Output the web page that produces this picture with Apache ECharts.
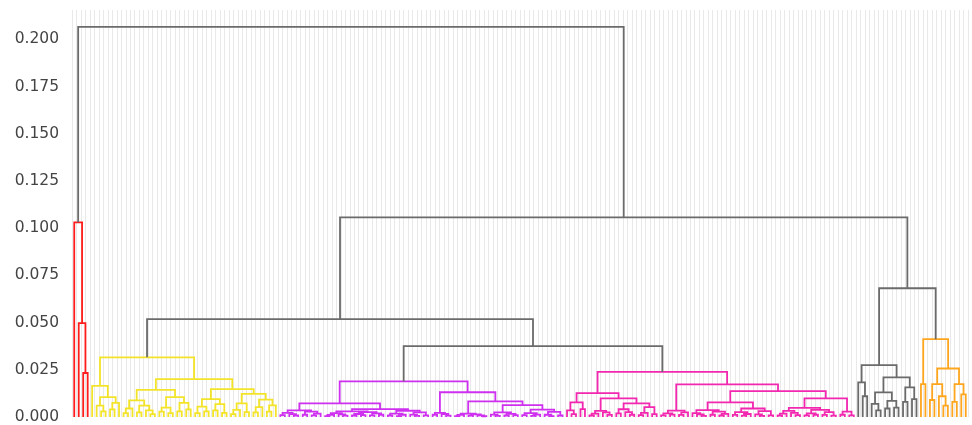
<!DOCTYPE html>
<html lang="en" style="height: 100%">

<head>
    <meta charset="UTF-8">
    <title>Dendrogram</title>
    <script src="https://cdn.jsdelivr.net/npm/echarts@6/dist/echarts.min.js"></script>
</head>

<body style="height: 100%; margin: 0; background: #fff">
    <div id="main" style="width: 972px; height: 425px"></div>
    <script>
        // merge trees: [height, left, right], a leaf is 0
        var redTree = [0.1031, 0, [0.0497, 0, [0.0233, 0, 0]]];

        var yellowTree = [0.0316,
            [0.0165, 0, [0.0105, [0.006, 0, [0.003, 0, 0]], [0.0075, [0.004, 0, 0], 0]]],
            [0.0201,
                [0.0144,
                    [0.0088, [0.0045, [0.002, 0, 0], 0], [0.006, [0.0025, 0, 0], [0.0035, 0, [0.0015, 0, 0]]]],
                    [0.0105, [0.005, [0.0028, 0, 0], [0.002, 0, 0]], [0.0075, [0.003, 0, 0], [0.004, 0, 0]]]],
                [0.0148,
                    [0.0095, [0.0055, [0.002, 0, 0], [0.003, 0, 0]], [0.0068, [0.0035, 0, 0], [0.0022, 0, 0]]],
                    [0.0122, [0.0072, [0.0038, [0.0015, 0, 0], 0], [0.0026, 0, 0]],
                        [0.0092, [0.0052, [0.0024, 0, 0], 0], [0.0062, [0.0028, 0, 0], 0]]]]]];

        var purpleTree = [0.0189,
            [0.0072,
                [0.0035, [0.0022, [0.001, 0, 0], [0.0015, 0, [0.0008, 0, 0]]],
                    [0.0028, [0.0012, 0, 0], [0.0018, [0.0009, 0, 0], 0]]],
                [0.0042,
                    [0.003, [0.0021, [0.0011, [0.0005, 0, 0], 0], [0.0014, 0, [0.0007, 0, 0]]],
                        [0.0026, [0.0016, [0.0008, 0, 0], [0.001, 0, 0]], [0.0019, [0.0009, 0, 0], [0.0012, 0, 0]]]],
                    [0.0033, [0.0018, [0.0008, 0, 0], [0.0012, [0.0005, 0, 0], 0]],
                        [0.0024, [0.0013, 0, [0.0006, 0, 0]], [0.0009, 0, 0]]]]],
            [0.0131,
                [0.0022, [0.0012, 0, 0], [0.0016, 0, [0.0007, 0, 0]]],
                [0.0083,
                    [0.0018, [0.0011, [0.0005, 0, 0], 0], [0.0014, [0.0007, 0, 0], [0.0009, 0, [0.0004, 0, 0]]]],
                    [0.0063,
                        [0.0024, [0.0013, 0, [0.0006, 0, 0]], [0.0017, [0.0008, 0, 0], [0.001, 0, 0]]],
                        [0.0039, [0.0021, [0.001, 0, 0], [0.0013, [0.0006, 0, 0], 0]],
                            [0.0027, [0.0012, 0, [0.0005, 0, 0]], [0.0008, 0, 0]]]]]]];

        var pinkTree = [0.0239,
            [0.0127,
                [0.0078, [0.0035, 0, [0.0015, 0, 0]], [0.0042, 0, 0]],
                [0.0099,
                    [0.0032, [0.0018, [0.0008, 0, 0], 0], [0.0024, 0, [0.0011, 0, 0]]],
                    [0.0072, [0.0041, [0.0019, 0, 0], [0.0026, 0, [0.0012, 0, 0]]],
                        [0.0052, [0.0022, [0.001, 0, 0], 0], [0.0015, 0, 0]]]]],
            [0.0173,
                [0.0034, [0.0019, [0.0009, 0, 0], [0.0013, 0, 0]], [0.0025, [0.0011, 0, 0], 0]],
                [0.0137,
                    [0.0078,
                        [0.0036, [0.0021, 0, [0.0014, 0, [0.0006, 0, 0]]], [0.0028, [0.0012, 0, 0], [0.0017, [0.0008, 0, 0], 0]]],
                        [0.0045, [0.0026, [0.0011, 0, 0], [0.0016, [0.0007, 0, 0], 0]],
                            [0.0031, [0.0014, 0, [0.0006, 0, 0]], [0.0009, 0, 0]]]],
                    [0.0099,
                        [0.0048, [0.0032, [0.0018, [0.0008, 0, 0], 0], [0.0022, 0, [0.001, 0, 0]]],
                            [0.0038, [0.0019, [0.0009, 0, 0], [0.0012, 0, 0]], [0.0026, [0.0011, 0, 0], [0.0007, 0, 0]]]],
                        [0.0028, [0.0012, 0, 0], [0.0009, 0, 0]]]]]];

        var grayTree = [0.0275,
            [0.0183, 0, [0.011, 0, 0]],
            [0.021,
                [0.013, [0.007, 0, [0.0035, 0, 0]], [0.0085, [0.0045, 0, 0], [0.005, 0, 0]]],
                [0.0157, [0.008, 0, 0], [0.0095, 0, 0]]]];

        var orangeTree = [0.0412,
            [0.0174, 0, 0],
            [0.0257,
                [0.0174, [0.009, 0, 0], [0.011, 0, [0.006, 0, 0]]],
                [0.0174, [0.008, 0, 0], [0.012, 0, 0]]]];

        var clusters = [redTree, yellowTree, purpleTree, pinkTree, grayTree, orangeTree];
        var clusterColors = ['#ff1c1c', '#f3e42a', '#cf30f0', '#f228b0', '#6b6b6b', '#ffa61f'];
        var aboveColor = '#6b6b6b';

        // links above the clusters, {c: i} is cluster i
        var topTree = [0.2067, { c: 0 },
            [0.1057, [0.0518, { c: 1 }, [0.0375, { c: 2 }, { c: 3 }]], [0.0682, { c: 4 }, { c: 5 }]]];

        var yTicks = [0, 0.025, 0.05, 0.075, 0.1, 0.125, 0.15, 0.175, 0.2];

        var links = [];
        var leafCount = 0;

        function walk(node, color) {
            if (node === 0) {
                var x = leafCount * 10 + 5;
                leafCount++;
                return { x: x, h: 0 };
            }
            if (node.c !== undefined) {
                return walk(clusters[node.c], clusterColors[node.c]);
            }
            var a = walk(node[1], color);
            var b = walk(node[2], color);
            links.push([a.x, a.h, b.x, b.h, node[0], color]);
            return { x: (a.x + b.x) / 2, h: node[0] };
        }

        function walkTop(node) {
            if (node.c !== undefined) return walk(node, null);
            var a = walkTop(node[1]);
            var b = walkTop(node[2]);
            links.push([a.x, a.h, b.x, b.h, node[0], aboveColor]);
            return { x: (a.x + b.x) / 2, h: node[0] };
        }
        walkTop(topTree);

        var myChart = echarts.init(document.getElementById("main"));

        var option = {
            animation: false,
            backgroundColor: '#ffffff',
            grid: { left: 72, right: 4, top: 10, bottom: 7 },
            xAxis: {
                type: 'value',
                min: 0,
                max: leafCount * 10,
                interval: 10,
                axisLine: { show: false },
                axisTick: { show: false },
                axisLabel: { show: false },
                splitLine: { show: true, lineStyle: { color: '#e9e9e9', width: 1 } }
            },
            yAxis: {
                type: 'value',
                min: 0,
                max: 0.2156,
                interval: 0.025,
                axisLine: { show: false },
                axisTick: { show: false },
                axisLabel: {
                    showMaxLabel: false,
                    margin: 13,
                    padding: [4, 0, 0, 0],
                    color: '#444444',
                    fontSize: 15.5,
                    fontFamily: 'DejaVu Sans',
                    formatter: function (v) {
                        return yTicks.indexOf(Math.round(v * 1000) / 1000) >= 0 ? v.toFixed(3) : '';
                    }
                },
                splitLine: { show: true, lineStyle: { color: '#ffffff', width: 1.5 } }
            },
            series: [{
                type: 'custom',
                silent: true,
                encode: { x: [0, 2], y: [1, 3, 4] },
                data: links,
                renderItem: function (params, api) {
                    var d = links[params.dataIndex];
                    var p1 = api.coord([d[0], d[1]]);
                    var p2 = api.coord([d[0], d[4]]);
                    var p3 = api.coord([d[2], d[4]]);
                    var p4 = api.coord([d[2], d[3]]);
                    return {
                        type: 'polyline',
                        shape: { points: [p1, p2, p3, p4] },
                        style: { stroke: d[5], lineWidth: 1.8, fill: null }
                    };
                }
            }]
        };

        myChart.setOption(option);
        window.addEventListener('resize', myChart.resize);
    </script>
</body>

</html>
